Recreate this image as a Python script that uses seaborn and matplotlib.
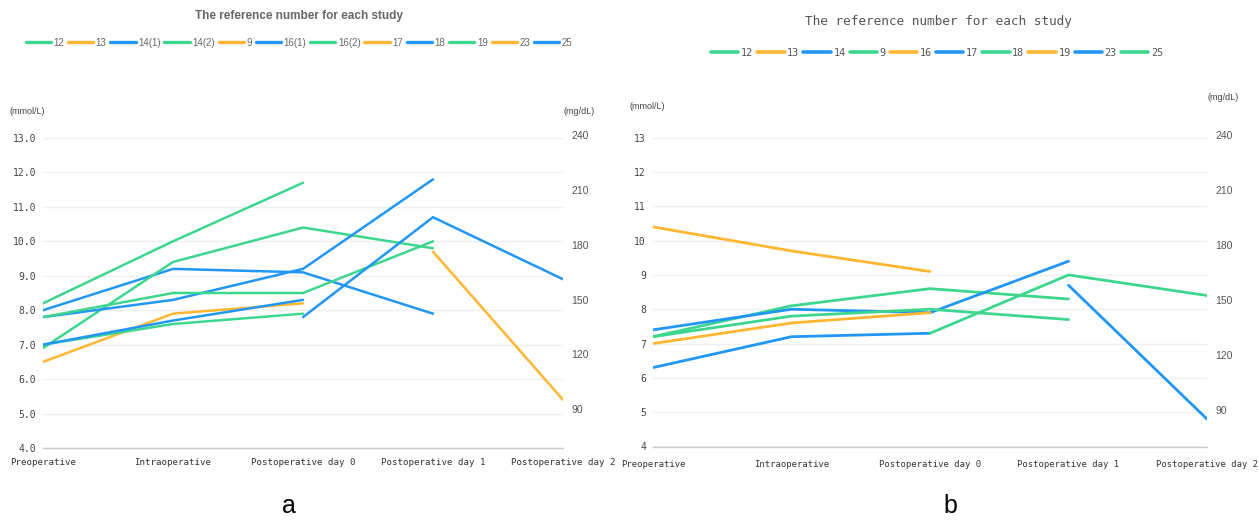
import numpy as np
import pandas as pd
import matplotlib
matplotlib.use("Agg")
import matplotlib.pyplot as plt
import matplotlib.transforms as mtransforms
import seaborn as sns
from matplotlib.lines import Line2D

nan = np.nan

stages = ["Preoperative", "Intraoperative", "Postoperative day 0",
          "Postoperative day 1", "Postoperative day 2"]

GREEN = "#3dd68f"
ORANGE = "#ffb733"
BLUE = "#2196f3"

# ---- panel a: blood glucose (mmol/L) per study ----
studies_a = ["12", "13", "14(1)", "14(2)", "9", "16(1)", "16(2)",
             "17", "18", "19", "23", "25"]
colors_a = [GREEN, ORANGE, BLUE] * 4
a_12 = [8.2, 10.0, 11.7, nan, nan]
a_13 = [6.5, 7.9, 8.2, nan, nan]
a_14_1 = [8.0, 9.2, 9.1, 7.9, nan]
a_14_2 = [6.9, 9.4, 10.4, 9.8, nan]
a_9 = [nan, nan, nan, nan, nan]
a_16_1 = [7.8, 8.3, 9.2, 11.8, nan]
a_16_2 = [7.8, 8.5, 8.5, 10.0, nan]
a_17 = [nan, nan, nan, nan, nan]
a_18 = [nan, nan, 7.8, 10.7, 8.9]
a_19 = [7.0, 7.6, 7.9, nan, nan]
a_23 = [nan, nan, nan, 9.7, 5.4]
a_25 = [7.0, 7.7, 8.3, nan, nan]
values_a = [a_12, a_13, a_14_1, a_14_2, a_9, a_16_1, a_16_2,
            a_17, a_18, a_19, a_23, a_25]

# ---- panel b ----
studies_b = ["12", "13", "14", "9", "16", "17", "18", "19", "23", "25"]
colors_b = [GREEN, ORANGE, BLUE, GREEN, ORANGE, BLUE, GREEN, ORANGE, BLUE, GREEN]
b_12 = [7.2, 8.1, 8.6, 8.3, nan]
b_13 = [10.4, 9.7, 9.1, nan, nan]
b_14 = [7.4, 8.0, 7.9, 9.4, nan]
b_9 = [7.2, 7.8, 8.0, 7.7, nan]
b_16 = [7.0, 7.6, 7.9, nan, nan]
b_17 = [6.3, 7.2, 7.3, nan, nan]
b_18 = [nan, nan, nan, nan, nan]
b_19 = [nan, nan, nan, nan, nan]
b_23 = [nan, nan, nan, 8.7, 4.8]
b_25 = [nan, nan, 7.3, 9.0, 8.4]
values_b = [b_12, b_13, b_14, b_9, b_16, b_17, b_18, b_19, b_23, b_25]

left_ticks = [4, 5, 6, 7, 8, 9, 10, 11, 12, 13]
right_ticks = [90, 120, 150, 180, 210, 240]

sns.set_style("white")
plt.rcParams["font.family"] = ["DejaVu Sans Mono"]

W, H = 1259, 520
fig = plt.figure(figsize=(W / 100, H / 100), dpi=100)

MONO = "DejaVu Sans Mono"
SANS = "Liberation Sans"


def long_frame(studies, values):
    rows = []
    for s, vals in zip(studies, values):
        for i, v in enumerate(vals):
            rows.append({"study": s, "pos": i, "value": v})
    return pd.DataFrame(rows).dropna()


def draw_panel(rect, studies, colors, values, lw, left_fmt, right_lim,
               xlab_size, xpad, tick_len):
    ax = fig.add_axes(rect)
    df = long_frame(studies, values)
    sns.lineplot(data=df, x="pos", y="value", hue="study",
                 hue_order=[s for s in studies if s in set(df["study"])],
                 palette=dict(zip(studies, colors)), estimator=None,
                 sort=True, linewidth=lw, legend=False, ax=ax)
    ax.set_xlim(0, len(stages) - 1)
    ax.set_ylim(4, 13)
    ax.set_xticks(range(len(stages)))
    ax.set_xticklabels(stages, fontsize=xlab_size, color="#333333",
                       family=MONO)
    ax.set_yticks(left_ticks)
    ax.set_yticklabels([left_fmt.format(t) for t in left_ticks],
                       fontsize=7, color="#444444", family=MONO)
    ax.set_xlabel("")
    ax.set_ylabel("")
    ax.yaxis.grid(True, color="#efefef", lw=1)
    ax.set_axisbelow(True)
    for side in ["left", "right", "top"]:
        ax.spines[side].set_visible(False)
    ax.spines["bottom"].set_color("#cccccc")
    ax.spines["bottom"].set_linewidth(1)
    ax.tick_params(axis="x", length=tick_len, color="#cccccc", width=1,
                   pad=xpad)
    ax.tick_params(axis="y", length=0, pad=5)

    axr = ax.twinx()
    axr.set_ylim(*right_lim)
    axr.set_yticks(right_ticks)
    axr.set_yticklabels([str(t) for t in right_ticks], fontsize=7.5,
                        color="#555555", family=SANS)
    axr.tick_params(axis="y", length=0, pad=6)
    lift = mtransforms.ScaledTranslation(0, 3 / 100, fig.dpi_scale_trans)
    for lab in axr.get_yticklabels():
        lab.set_transform(lab.get_transform() + lift)
    for side in ["left", "right", "top", "bottom"]:
        axr.spines[side].set_visible(False)
    axr.grid(False)
    return ax


def fig_rect(x0, x1, y_top, y_bot):
    return [x0 / W, 1 - y_bot / H, (x1 - x0) / W, (y_bot - y_top) / H]


ax_a = draw_panel(fig_rect(43, 563, 138, 448), studies_a, colors_a, values_a,
                  1.8, "{:.1f}", (70.5, 240.05), 6.6, 4, 3)
ax_b = draw_panel(fig_rect(653, 1207, 137.7, 446.5), studies_b, colors_b,
                  values_b, 2.0, "{:d}", (72, 240.05), 6.4, 6, 4)

# titles
fig.text(299 / W, 1 - 16 / H, "The reference number for each study",
         ha="center", va="center", fontsize=8.5, fontweight="bold",
         color="#666666", family=SANS)
fig.text(938 / W, 1 - 21 / H, "The reference number for each study",
         ha="center", va="center", fontsize=9.2, color="#555555", family=MONO)

# legends
handles_a = [Line2D([], [], color=c, lw=2.4) for c in colors_a]
fig.legend(handles_a, studies_a, loc="center", ncol=len(studies_a),
           bbox_to_anchor=(299 / W, 1 - 42.5 / H), frameon=False,
           handlelength=2.6, handletextpad=0.25, columnspacing=0.4,
           prop={"family": SANS, "size": 7}, labelcolor="#666666")
handles_b = [Line2D([], [], color=c, lw=2.6) for c in colors_b]
fig.legend(handles_b, studies_b, loc="center", ncol=len(studies_b),
           bbox_to_anchor=(937 / W, 1 - 53 / H), frameon=False,
           handlelength=2.7, handletextpad=0.25, columnspacing=0.4,
           prop={"family": MONO, "size": 7.3}, labelcolor="#555555")

# unit labels
fig.text(10 / W, 1 - 111 / H, "(mmol/L)", ha="left", va="center",
         fontsize=6.5, color="#444444", family=SANS)
fig.text(563 / W, 1 - 111 / H, "(mg/dL)", ha="left", va="center",
         fontsize=6.5, color="#444444", family=SANS)
fig.text(630 / W, 1 - 107 / H, "(mmol/L)", ha="left", va="center",
         fontsize=6.5, color="#444444", family=SANS)
fig.text(1208 / W, 1 - 98 / H, "(mg/dL)", ha="left", va="center",
         fontsize=6.5, color="#444444", family=SANS)

# panel letters
fig.text(289 / W, 1 - 506 / H, "a", ha="center", va="center", fontsize=18,
         color="black", family=SANS)
fig.text(950 / W, 1 - 506 / H, "b", ha="center", va="center", fontsize=18,
         color="black", family=SANS)

fig.savefig("out.png", dpi=100)
